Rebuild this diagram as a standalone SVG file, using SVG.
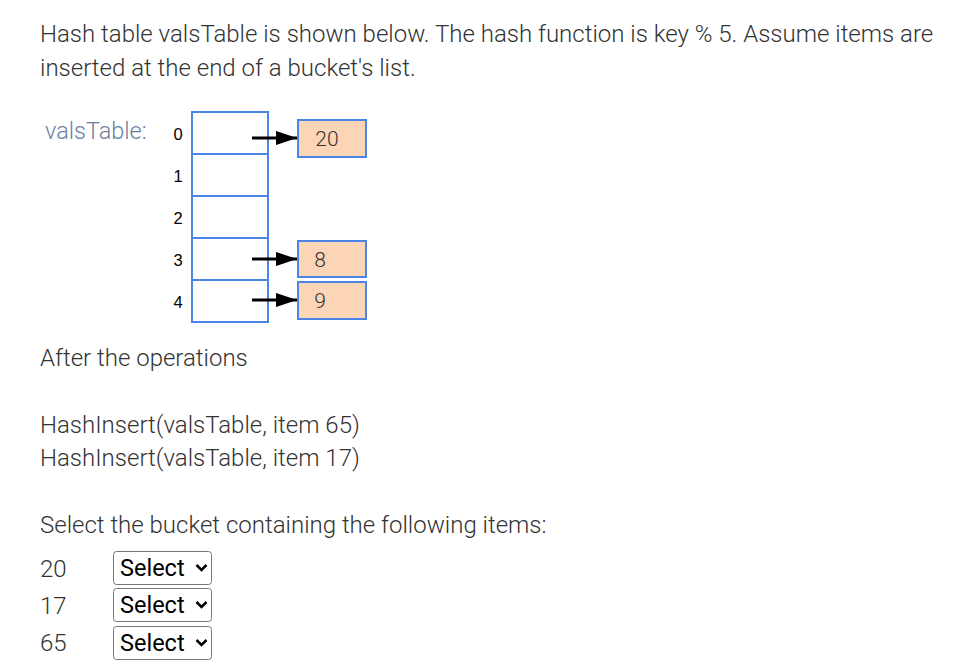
<svg xmlns="http://www.w3.org/2000/svg" width="962" height="672" viewBox="0 0 962 672">
<defs>
<style>
.t{font-family:Roboto,"Liberation Sans",sans-serif;font-weight:300;font-size:24px;fill:#333}
.idx{font-family:"Liberation Sans",Arial,sans-serif;font-size:16.5px;fill:#000;text-anchor:middle}
.cell{fill:#fff;stroke:#4a86e8;stroke-width:2}
.node{fill:#fbd5b5;stroke:#4a86e8;stroke-width:2}
.nt{font-family:Roboto,"Liberation Sans",sans-serif;font-weight:300;font-size:21px;fill:#333;text-anchor:middle}
.sel{fill:#fff;stroke:#767676;stroke-width:1}
.st{font-family:Roboto,"Liberation Sans",sans-serif;font-size:23.5px;fill:#000}
.chev{stroke:#000;stroke-width:2.5;fill:none}
.conn{stroke:#000;stroke-width:3;fill:none}
</style>
<marker id="ah" viewBox="0 0 10 10" refX="10" refY="5" markerWidth="7" markerHeight="4.7" markerUnits="strokeWidth" orient="auto" preserveAspectRatio="none">
<path d="M0,0 L10,5 L0,10 z" fill="#000"/>
</marker>
</defs>
<rect width="962" height="672" fill="#fff"/>
<text class="t" x="40" y="42">Hash table valsTable is shown below. The hash function is key % 5. Assume items are</text>
<text class="t" x="40" y="76">inserted at the end of a bucket's list.</text>
<text x="45" y="139" style="font-family:Roboto,'Liberation Sans',sans-serif;font-weight:300;font-size:23.5px;fill:#6a7fa0">valsTable:</text>
<g id="table">
<rect class="cell" x="192" y="112" width="76" height="42"/>
<rect class="cell" x="192" y="154" width="76" height="42"/>
<rect class="cell" x="192" y="196" width="76" height="42"/>
<rect class="cell" x="192" y="238" width="76" height="42"/>
<rect class="cell" x="192" y="280" width="76" height="42"/>
<text class="idx" x="178" y="140">0</text>
<text class="idx" x="178" y="182">1</text>
<text class="idx" x="178" y="224">2</text>
<text class="idx" x="178" y="266">3</text>
<text class="idx" x="178" y="308">4</text>
</g>
<g id="node20"><rect class="node" x="298" y="120" width="68" height="37"/><text class="nt" x="327" y="146">20</text></g>
<g id="node8"><rect class="node" x="298" y="241" width="68" height="36"/><text class="nt" x="320" y="267">8</text></g>
<g id="node9"><rect class="node" x="298" y="282" width="68" height="37"/><text class="nt" x="320" y="308">9</text></g>
<g id="connectors">
<line class="conn" x1="252" y1="138" x2="297" y2="138" marker-end="url(#ah)"/>
<line class="conn" x1="252" y1="259" x2="297" y2="259" marker-end="url(#ah)"/>
<line class="conn" x1="252" y1="300" x2="297" y2="300" marker-end="url(#ah)"/>
</g>
<text class="t" x="40" y="366">After the operations</text>
<text class="t" x="40" y="433">HashInsert(valsTable, item 65)</text>
<text class="t" x="40" y="466">HashInsert(valsTable, item 17)</text>
<text class="t" x="40" y="533">Select the bucket containing the following items:</text>
<text class="t" x="40" y="577">20</text>
<text class="t" x="40" y="614">17</text>
<text class="t" x="40" y="651">65</text>
<g id="select1"><rect class="sel" x="113.5" y="551.5" width="98" height="33" rx="3"/><text class="st" x="120" y="576">Select</text><path class="chev" d="M196.5,565 l5,5 l5,-5"/></g>
<g id="select2"><rect class="sel" x="113.5" y="588.5" width="98" height="33" rx="3"/><text class="st" x="120" y="613">Select</text><path class="chev" d="M196.5,602 l5,5 l5,-5"/></g>
<g id="select3"><rect class="sel" x="113.5" y="626.5" width="98" height="33" rx="3"/><text class="st" x="120" y="651">Select</text><path class="chev" d="M196.5,640 l5,5 l5,-5"/></g>
</svg>
